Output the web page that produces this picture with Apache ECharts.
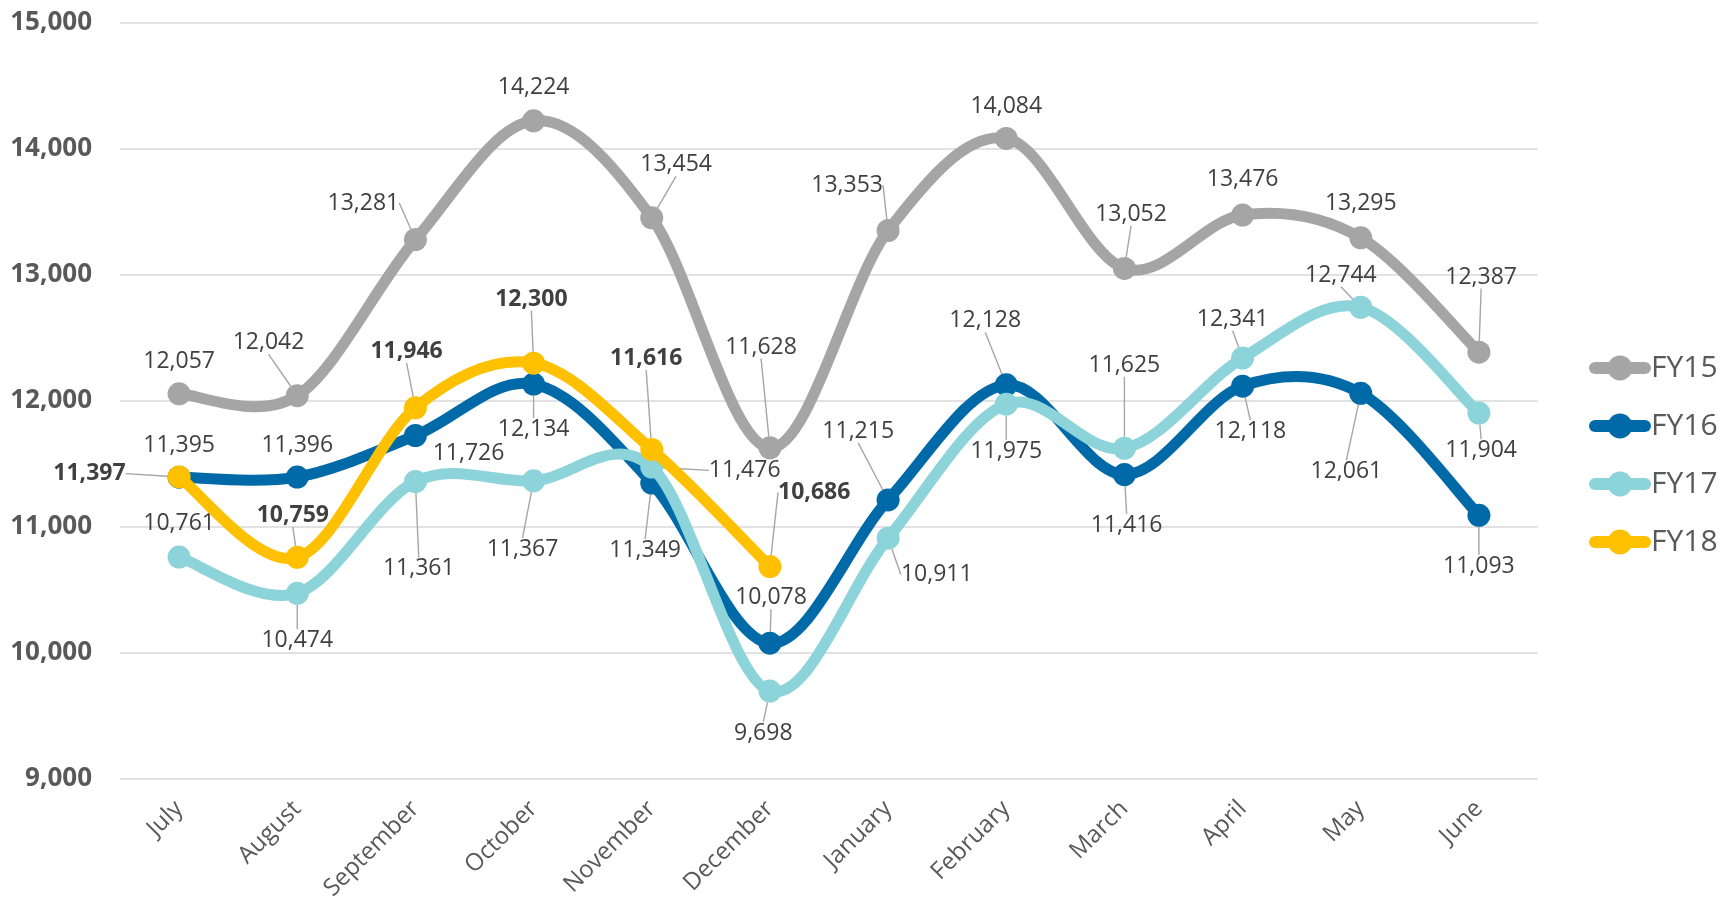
<!DOCTYPE html>
<html>
<head>
<meta charset="utf-8">
<script src="https://cdn.jsdelivr.net/npm/echarts@6/dist/echarts.min.js"></script>
<style>
html,body{margin:0;padding:0;background:#ffffff;}
#chart{width:1735px;height:903px;}
</style>
</head>
<body>
<div id="chart"></div>
<script>
// ---------------- data ----------------
const categories = ['July','August','September','October','November','December','January','February','March','April','May','June'];
const seriesNames = ['FY15','FY16','FY17','FY18'];
const fy15 = [12057, 12042, 13281, 14224, 13454, 11628, 13353, 14084, 13052, 13476, 13295, 12387];
const fy16 = [11395, 11396, 11726, 12134, 11349, 10078, 11215, 12128, 11416, 12118, 12061, 11093];
const fy17 = [10761, 10474, 11361, 11367, 11476, 9698, 10911, 11975, 11625, 12341, 12744, 11904];
const fy18 = [11397, 10759, 11946, 12300, 11616, 10686];
const yMin = 9000, yMax = 15000, yInterval = 1000;

// ---------------- styling ----------------
const S = 1735 / 1568;
const colors = ['#A5A5A5', '#006AA8', '#8CD3DA', '#FFC000'];
const boldLabels = [false, false, false, true];
const LINE_W = 11;
const SYMBOL = 23;
// label offsets (relative to point centre) and whether a leader line is drawn
const labelOffsets = [
  [[0,-29],[-26,-48],[-47,-33],[0,-30],[22,-48],[-8,-91],[-37,-41],[0,-29],[6,-49],[0,-32],[0,-31],[2,-68]],
  [[0,-29],[0,-29],[48,16],[0,41],[-6,61],[1,-41],[-27,-62],[-19,-58],[2,46],[7,41],[-13,71],[0,46]],
  [[0,-30],[0,43],[3,79],[-10,62],[84,3],[-6,38],[44,33],[0,43],[0,-75],[-9,-35],[-18,-29],[2,34]],
  [[-81,-3],[-4,-38],[-8,-51],[-2,-58],[-5,-82],[40,-67]]
];
const leaders = [
  [0,1,1,0,1,1,1,0,1,0,0,1],
  [0,0,0,1,1,1,1,1,1,1,1,1],
  [0,1,1,1,1,1,1,1,1,1,1,1],
  [1,1,1,1,1,1]
];

const allData = [fy15, fy16, fy17, fy18];
const FONT = "'Open Sans', 'Noto Sans', sans-serif";

const series = [];
allData.forEach(function (vals, si) {
  // smoothed curve (Catmull-Rom style, as a spreadsheet "smoothed line"), drawn through the axes
  series.push({
    name: seriesNames[si] + ' curve',
    type: 'custom',
    coordinateSystem: 'cartesian2d',
    animation: false,
    silent: true,
    z: 2 + si * 2,
    data: vals.map(function (v, i) { return [i, v]; }),
    encode: { x: 0, y: 1 },
    renderItem: function (params, api) {
      const i = params.dataIndex;
      const n = vals.length;
      if (i >= n - 1) return null;
      const pt = function (k) {
        k = Math.max(0, Math.min(n - 1, k));
        return api.coord([k, vals[k]]);
      };
      const p0 = pt(i - 1), p1 = pt(i), p2 = pt(i + 1), p3 = pt(i + 2);
      const f = 1 / 6;
      return {
        type: 'bezierCurve',
        shape: {
          x1: p1[0], y1: p1[1], x2: p2[0], y2: p2[1],
          cpx1: p1[0] + (p2[0] - p0[0]) * f, cpy1: p1[1] + (p2[1] - p0[1]) * f,
          cpx2: p2[0] - (p3[0] - p1[0]) * f, cpy2: p2[1] - (p3[1] - p1[1]) * f
        },
        style: { stroke: colors[si], lineWidth: LINE_W, fill: null, lineCap: 'round' }
      };
    }
  });
  // markers + data labels
  series.push({
    name: seriesNames[si],
    type: 'line',
    symbol: 'circle',
    symbolSize: SYMBOL,
    animation: false,
    z: 3 + si * 2,
    data: vals.map(function (v, i) {
      return { value: v, labelLine: { show: !!leaders[si][i] } };
    }),
    lineStyle: { width: 0, opacity: 0, color: colors[si] },
    itemStyle: { color: colors[si] },
    label: {
      show: true,
      position: 'inside',
      fontFamily: FONT,
      fontSize: 23,
      fontWeight: boldLabels[si] ? 'bold' : 'normal',
      color: '#404040',
      formatter: function (p) { return Number(p.value).toLocaleString('en-US'); }
    },
    labelLine: {
      show: true,
      length2: 0,
      lineStyle: { color: '#A6A6A6', width: 1.4 }
    },
    labelLayout: function (p) {
      const o = labelOffsets[si][p.dataIndex];
      const cx = p.rect.x + p.rect.width / 2;
      const cy = p.rect.y + p.rect.height / 2;
      return { x: cx + o[0] * S, y: cy + o[1] * S, align: 'center', verticalAlign: 'middle' };
    },
    emphasis: { disabled: true }
  });
});

const chart = echarts.init(document.getElementById('chart'), null, { renderer: 'canvas' });
chart.setOption({
  animation: false,
  backgroundColor: '#ffffff',
  textStyle: { fontFamily: FONT },
  grid: { left: 120, right: 197, top: 23, bottom: 124, containLabel: false, outerBoundsMode: 'none' },
  legend: {
    orient: 'vertical',
    left: 1589,
    top: 353,
    itemWidth: 50,
    itemHeight: 31,
    itemGap: 28,
    padding: 0,
    data: seriesNames,
    lineStyle: { width: 12, opacity: 1, cap: 'round' },
    textStyle: { fontFamily: FONT, fontSize: 30, color: '#595959', padding: [0, 0, 0, 1] }
  },
  xAxis: {
    type: 'category',
    data: categories,
    boundaryGap: true,
    axisLine: { show: false },
    axisTick: { show: false },
    axisLabel: {
      rotate: 45,
      margin: 26,
      fontFamily: FONT,
      fontSize: 24,
      color: '#595959',
      interval: 0
    },
    splitLine: { show: false }
  },
  yAxis: {
    type: 'value',
    min: yMin,
    max: yMax,
    interval: yInterval,
    axisLine: { show: false },
    axisTick: { show: false },
    axisLabel: {
      margin: 28,
      fontFamily: FONT,
      fontSize: 26,
      fontWeight: 'bold',
      color: '#595959',
      formatter: function (v) { return v.toLocaleString('en-US'); }
    },
    splitLine: { show: true, lineStyle: { color: '#D9D9D9', width: 1.5 } }
  },
  series: series
});
</script>
</body>
</html>
